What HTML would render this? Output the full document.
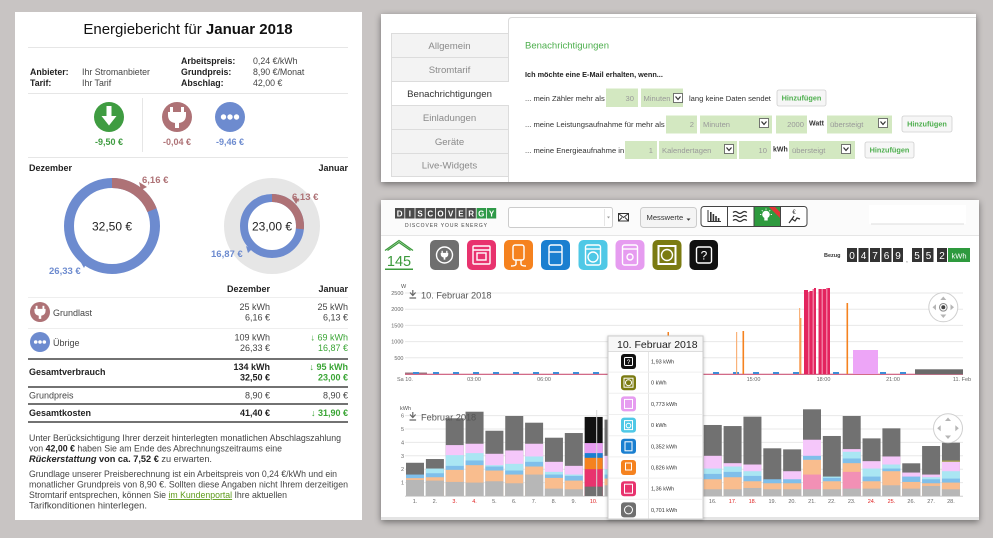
<!DOCTYPE html>
<html><head><meta charset="utf-8">
<style>
html,body{margin:0;padding:0;background:#c8c4c3;overflow:hidden;}
svg{display:block;font-family:"Liberation Sans",Arial,sans-serif;}
.g{fill:#b7b7b7}.o{fill:#f9bd8e}.b{fill:#80bfea}.c{fill:#aae6f3}.v{fill:#f5c7fa}.d{fill:#717171}.p{fill:#f290b5}
.ax{font-size:5.5px;fill:#666}
.inp{fill:#d3e8c1}
.sel{fill:#fff;stroke:#555;stroke-width:0.8}
.btn{fill:#f6f6f6;stroke:#cfcfcf;stroke-width:0.8}
.bt{font-size:7.3px;fill:#4cae4c;font-weight:bold;text-anchor:middle}
.rt{font-size:7.6px;fill:#333}
.it{font-size:7.6px;fill:#999}
</style></head><body>
<svg width="993" height="538" viewBox="0 0 993 538">
<defs>
<filter id="sh" x="-5%" y="-10%" width="110%" height="125%"><feDropShadow dx="0" dy="2" stdDeviation="3.5" flood-color="#000" flood-opacity="0.45"/></filter>
<filter id="sh2" x="-10%" y="-10%" width="120%" height="120%"><feDropShadow dx="0" dy="1" stdDeviation="1.5" flood-color="#000" flood-opacity="0.25"/></filter>
</defs>
<rect width="993" height="538" fill="#c8c4c3"/>

<!-- ================= LEFT PANEL ================= -->
<rect x="15" y="12" width="347" height="508" fill="#fff"/>
<text x="188" y="34" text-anchor="middle" font-size="15" fill="#111">Energiebericht für <tspan font-weight="bold">Januar 2018</tspan></text>
<g stroke="#e6e6e6" stroke-width="1">
<line x1="28" y1="47.5" x2="348" y2="47.5"/><line x1="28" y1="93.5" x2="348" y2="93.5"/><line x1="28" y1="157.5" x2="348" y2="157.5"/><line x1="142.5" y1="98" x2="142.5" y2="152"/>
</g>
<g font-size="8.8" fill="#222">
<text x="30" y="75" font-weight="bold">Anbieter:</text>
<text x="30" y="86" font-weight="bold">Tarif:</text>
<text x="82" y="75" fill="#444">Ihr Stromanbieter</text>
<text x="82" y="86" fill="#444">Ihr Tarif</text>
<text x="181" y="64" font-weight="bold">Arbeitspreis:</text>
<text x="181" y="75" font-weight="bold">Grundpreis:</text>
<text x="181" y="86" font-weight="bold">Abschlag:</text>
<text x="253" y="64" fill="#444">0,24 €/kWh</text>
<text x="253" y="75" fill="#444">8,90 €/Monat</text>
<text x="253" y="86" fill="#444">42,00 €</text>
</g>
<circle cx="109" cy="117" r="15" fill="#3f9c41"/>
<path d="M106.5 106h5v10h5l-7.5 9.5l-7.5 -9.5h5z" fill="#fff"/>
<circle cx="177" cy="117" r="15" fill="#ae7276"/>
<g transform="translate(177 117)" fill="#fff"><rect x="-7" y="-10" width="3" height="6"/><rect x="4" y="-10" width="3" height="6"/><path d="M-9 -5H9V-2Q9 5 2 6V11H-2V6Q-9 5 -9 -2Z"/></g>
<circle cx="230" cy="117" r="15" fill="#6d8bcf"/>
<g fill="#fff"><circle cx="223.5" cy="117" r="2.7"/><circle cx="230" cy="117" r="2.7"/><circle cx="236.5" cy="117" r="2.7"/></g>
<g font-size="9" font-weight="bold" text-anchor="middle">
<text x="109" y="145" fill="#3f9c41">-9,50 €</text>
<text x="177" y="145" fill="#ae7276">-0,04 €</text>
<text x="230" y="145" fill="#6d8bcf">-9,46 €</text>
</g>

<text x="29" y="171" font-size="9" font-weight="bold" fill="#222">Dezember</text>
<text x="348" y="171" font-size="9" font-weight="bold" fill="#222" text-anchor="end">Januar</text>

<!-- donut 1 -->
<circle cx="112" cy="226" r="43" fill="none" stroke="#6d8bcf" stroke-width="10"/>
<circle cx="112" cy="226" r="43" fill="none" stroke="#ae7276" stroke-width="10" stroke-dasharray="51.2 300" transform="rotate(-90 112 226)"/>
<polygon points="139,182 141,190 147,187" fill="#ae7276"/>
<polygon points="84,268 80,261 87,262" fill="#6d8bcf"/>
<text x="142" y="183" font-size="9.5" font-weight="bold" fill="#ae7276">6,16 €</text>
<text x="49" y="274" font-size="9.5" font-weight="bold" fill="#6d8bcf">26,33 €</text>
<text x="112" y="230.5" font-size="12" fill="#222" text-anchor="middle">32,50 €</text>

<!-- donut 2 -->
<circle cx="272" cy="226" r="48" fill="#e6e6e6"/>
<circle cx="272" cy="226" r="32" fill="#fff"/>
<circle cx="272" cy="226" r="28" fill="none" stroke="#6d8bcf" stroke-width="8"/>
<circle cx="272" cy="226" r="28" fill="none" stroke="#ae7276" stroke-width="8" stroke-dasharray="46.9 300" transform="rotate(-90 272 226)"/>
<polygon points="292,197 296,204 299,199" fill="#ae7276"/>
<polygon points="248,253 246,246 252,249" fill="#6d8bcf"/>
<text x="292" y="200" font-size="9.5" font-weight="bold" fill="#ae7276">6,13 €</text>
<text x="211" y="257" font-size="9.5" font-weight="bold" fill="#6d8bcf">16,87 €</text>
<text x="272" y="230.5" font-size="12" fill="#222" text-anchor="middle">23,00 €</text>

<!-- table -->
<g font-size="9" fill="#222">
<text x="270" y="292" font-weight="bold" text-anchor="end">Dezember</text>
<text x="348" y="292" font-weight="bold" text-anchor="end">Januar</text>
</g>
<g stroke="#eeeeee"><line x1="28" y1="297.5" x2="348" y2="297.5"/><line x1="28" y1="328.5" x2="348" y2="328.5"/></g>
<circle cx="40" cy="312" r="10" fill="#ae7276"/>
<g transform="translate(40 312) scale(0.62)" fill="#fff"><rect x="-7" y="-10" width="3" height="6"/><rect x="4" y="-10" width="3" height="6"/><path d="M-9 -5H9V-2Q9 5 2 6V11H-2V6Q-9 5 -9 -2Z"/></g>
<circle cx="40" cy="342" r="10" fill="#6d8bcf"/>
<g fill="#fff"><circle cx="35.7" cy="342" r="1.8"/><circle cx="40" cy="342" r="1.8"/><circle cx="44.3" cy="342" r="1.8"/></g>
<g font-size="9" fill="#444">
<text x="53" y="316">Grundlast</text>
<text x="53" y="346">Übrige</text>
<text x="270" y="310" text-anchor="end">25 kWh</text>
<text x="270" y="320.5" text-anchor="end">6,16 €</text>
<text x="348" y="310" text-anchor="end">25 kWh</text>
<text x="348" y="320.5" text-anchor="end">6,13 €</text>
<text x="270" y="340.5" text-anchor="end">109 kWh</text>
<text x="270" y="351" text-anchor="end">26,33 €</text>
<text x="348" y="340.5" text-anchor="end" fill="#3aa535">↓ 69 kWh</text>
<text x="348" y="351" text-anchor="end" fill="#3aa535">16,87 €</text>
<text x="29" y="375" font-weight="bold" fill="#222">Gesamtverbrauch</text>
<text x="270" y="370" text-anchor="end" font-weight="bold" fill="#222">134 kWh</text>
<text x="270" y="380.7" text-anchor="end" font-weight="bold" fill="#222">32,50 €</text>
<text x="348" y="370" text-anchor="end" font-weight="bold" fill="#3aa535">↓ 95 kWh</text>
<text x="348" y="380.7" text-anchor="end" font-weight="bold" fill="#3aa535">23,00 €</text>
<text x="29" y="398.5">Grundpreis</text>
<text x="270" y="398.5" text-anchor="end">8,90 €</text>
<text x="348" y="398.5" text-anchor="end">8,90 €</text>
<text x="29" y="416" font-weight="bold" fill="#222">Gesamtkosten</text>
<text x="270" y="416" text-anchor="end" font-weight="bold" fill="#222">41,40 €</text>
<text x="348" y="416" text-anchor="end" font-weight="bold" fill="#3aa535">↓ 31,90 €</text>
</g>
<g stroke="#444" stroke-width="1.5">
<line x1="28" y1="359" x2="348" y2="359"/><line x1="28" y1="387" x2="348" y2="387"/><line x1="28" y1="404" x2="348" y2="404"/><line x1="28" y1="422" x2="348" y2="422"/>
</g>
<g font-size="9.2" fill="#444">
<text x="29" y="441" textLength="312" lengthAdjust="spacingAndGlyphs">Unter Berücksichtigung Ihrer derzeit hinterlegten monatlichen Abschlagszahlung</text>
<text x="29" y="451.5" textLength="253" lengthAdjust="spacingAndGlyphs">von <tspan font-weight="bold" fill="#222">42,00 €</tspan> haben Sie am Ende des Abrechnungszeitraums eine</text>
<text x="29" y="462" textLength="183" lengthAdjust="spacingAndGlyphs"><tspan font-weight="bold" font-style="italic" fill="#222">Rückerstattung</tspan><tspan font-weight="bold" fill="#222"> von ca. 7,52 €</tspan> zu erwarten.</text>
<text x="29" y="477" textLength="308" lengthAdjust="spacingAndGlyphs">Grundlage unserer Preisberechnung ist ein Arbeitspreis von 0,24 €/kWh und ein</text>
<text x="29" y="487.5" textLength="319" lengthAdjust="spacingAndGlyphs">monatlicher Grundpreis von 8,90 €. Sollten diese Angaben nicht Ihrem derzeitigen</text>
<text x="29" y="498" textLength="258" lengthAdjust="spacingAndGlyphs">Stromtarif entsprechen, können Sie <tspan fill="#5e9a1a" text-decoration="underline">im Kundenportal</tspan> Ihre aktuellen</text>
<text x="29" y="508.5" textLength="118" lengthAdjust="spacingAndGlyphs">Tarifkonditionen hinterlegen.</text>
</g>

<!-- ================= TOP RIGHT PANEL ================= -->
<rect x="381" y="14" width="595" height="168" fill="#fff" filter="url(#sh)"/>
<g stroke="#dcdcdc" stroke-width="1" fill="#f3f3f3">
<rect x="391.5" y="33.5" width="117" height="24"/>
<rect x="391.5" y="57.5" width="117" height="24"/>
<rect x="391.5" y="105.5" width="117" height="24"/>
<rect x="391.5" y="129.5" width="117" height="24"/>
<rect x="391.5" y="153.5" width="117" height="23"/>
</g>
<rect x="391.5" y="81.5" width="118" height="24" fill="#fff"/>
<path d="M508.5 182V105.5H391.5V81.5H508.5V21Q508.5 17.5 512 17.5H976" fill="none" stroke="#dcdcdc"/>
<g font-size="9.6" text-anchor="middle" fill="#8a8a8a">
<text x="449.5" y="49">Allgemein</text>
<text x="449.5" y="73">Stromtarif</text>
<text x="449.5" y="97" fill="#333">Benachrichtigungen</text>
<text x="449.5" y="121">Einladungen</text>
<text x="449.5" y="145">Geräte</text>
<text x="449.5" y="168.5">Live-Widgets</text>
</g>
<text x="525" y="48.5" font-size="9.5" fill="#4cae4c">Benachrichtigungen</text>
<text x="525" y="77" font-size="7.3" font-weight="bold" fill="#222">Ich möchte eine E-Mail erhalten, wenn...</text>

<!-- row1 -->
<text class="rt" x="525" y="101">... mein Zähler mehr als</text>
<rect class="inp" x="606" y="88.5" width="32" height="18.5"/>
<text class="it" x="634" y="101" text-anchor="end">30</text>
<rect class="inp" x="641" y="88.5" width="42" height="18.5"/>
<text class="it" x="643.5" y="101">Minuten</text>
<rect class="sel" x="673.5" y="93.5" width="9" height="9"/>
<path d="M675.5 96.5l2.5 3l2.5 -3" fill="none" stroke="#333" stroke-width="1.2"/>
<text class="rt" x="689" y="101">lang keine Daten sendet</text>
<rect class="btn" x="777" y="90" width="49" height="16" rx="2"/>
<text class="bt" x="801.5" y="100.7">Hinzufügen</text>

<!-- row2 -->
<text class="rt" x="525" y="127">... meine Leistungsaufnahme für mehr als</text>
<rect class="inp" x="666" y="115.5" width="31" height="18"/>
<text class="it" x="694" y="127" text-anchor="end">2</text>
<rect class="inp" x="700" y="115.5" width="72" height="18"/>
<text class="it" x="703" y="127">Minuten</text>
<rect class="sel" x="759.5" y="118.5" width="9" height="9"/>
<path d="M761.5 121.5l2.5 3l2.5 -3" fill="none" stroke="#333" stroke-width="1.2"/>
<rect class="inp" x="776" y="115.5" width="31" height="18"/>
<text class="it" x="804" y="127" text-anchor="end">2000</text>
<text x="809" y="125.5" font-size="7" font-weight="bold" fill="#333">Watt</text>
<rect class="inp" x="827" y="115.5" width="65" height="18"/>
<text class="it" x="830" y="127">übersteigt</text>
<rect class="sel" x="878.5" y="118.5" width="9" height="9"/>
<path d="M880.5 121.5l2.5 3l2.5 -3" fill="none" stroke="#333" stroke-width="1.2"/>
<rect class="btn" x="902" y="116" width="50" height="16" rx="2"/>
<text class="bt" x="927" y="126.7">Hinzufügen</text>

<!-- row3 -->
<text class="rt" x="525" y="153">... meine Energieaufnahme in</text>
<rect class="inp" x="625" y="141" width="32" height="18"/>
<text class="it" x="653" y="153" text-anchor="end">1</text>
<rect class="inp" x="659" y="141" width="78" height="18"/>
<text class="it" x="662" y="153">Kalendertagen</text>
<rect class="sel" x="724.5" y="144.5" width="9" height="9"/>
<path d="M726.5 147.5l2.5 3l2.5 -3" fill="none" stroke="#333" stroke-width="1.2"/>
<rect class="inp" x="739" y="141" width="32" height="18"/>
<text class="it" x="767" y="153" text-anchor="end">10</text>
<text x="773" y="151.5" font-size="7" font-weight="bold" fill="#333">kWh</text>
<rect class="inp" x="789" y="141" width="66" height="18"/>
<text class="it" x="792" y="153">übersteigt</text>
<rect class="sel" x="841.5" y="144.5" width="9" height="9"/>
<path d="M843.5 147.5l2.5 3l2.5 -3" fill="none" stroke="#333" stroke-width="1.2"/>
<rect class="btn" x="865" y="142" width="49" height="16" rx="2"/>
<text class="bt" x="889.5" y="152.7">Hinzufügen</text>

<!-- ================= BOTTOM RIGHT PANEL ================= -->
<rect x="381" y="200" width="598" height="320" fill="#e4e4e4" filter="url(#sh)"/>
<rect x="381" y="200" width="598" height="317" fill="#fff"/>
<rect x="381" y="200" width="598" height="35" fill="#fbfbfb"/>
<line x1="381" y1="235.5" x2="979" y2="235.5" stroke="#e6e6e6"/>

<!-- logo -->
<g>
<rect x="395" y="208" width="9.4" height="10.5" fill="#4a4a4a"/>
<rect x="405.2" y="208" width="9.4" height="10.5" fill="#4a4a4a"/>
<rect x="415.4" y="208" width="9.4" height="10.5" fill="#4a4a4a"/>
<rect x="425.6" y="208" width="9.4" height="10.5" fill="#4a4a4a"/>
<rect x="435.8" y="208" width="9.4" height="10.5" fill="#4a4a4a"/>
<rect x="446" y="208" width="9.4" height="10.5" fill="#4a4a4a"/>
<rect x="456.2" y="208" width="9.4" height="10.5" fill="#4a4a4a"/>
<rect x="466.4" y="208" width="9.4" height="10.5" fill="#4a4a4a"/>
<rect x="476.6" y="208" width="9.4" height="10.5" fill="#2f9a48"/>
<rect x="486.8" y="208" width="9.4" height="10.5" fill="#2f9a48"/>
</g>
<g font-size="8" font-weight="bold" fill="#fff" text-anchor="middle">
<text x="399.7" y="216.5">D</text><text x="409.9" y="216.5">I</text><text x="420.1" y="216.5">S</text><text x="430.3" y="216.5">C</text><text x="440.5" y="216.5">O</text><text x="450.7" y="216.5">V</text><text x="460.9" y="216.5">E</text><text x="471.1" y="216.5">R</text><text x="481.3" y="216.5">G</text><text x="491.5" y="216.5">Y</text>
</g>
<text x="405" y="227" font-size="5" fill="#444" textLength="82" lengthAdjust="spacing">DISCOVER YOUR ENERGY</text>

<rect x="508.5" y="207.5" width="104" height="20" rx="2" fill="#fff" stroke="#cccccc"/>
<line x1="604.5" y1="209" x2="604.5" y2="226" stroke="#e6e6e6"/>
<path d="M607 216.5h3l-1.5 2z" fill="#999"/>
<rect x="618.5" y="213.5" width="10" height="7.5" fill="none" stroke="#333" stroke-width="1"/>
<path d="M618.5 213.5l5 4l5 -4M618.5 221l3.5 -3.5M628.5 221l-3.5 -3.5" fill="none" stroke="#333" stroke-width="0.9"/>
<rect x="640.5" y="207.5" width="56" height="20" rx="3" fill="#f4f4f4" stroke="#cccccc"/>
<text x="646.5" y="220" font-size="7.6" fill="#333">Messwerte</text>
<path d="M686.5 218.5h4l-2 2.2z" fill="#333"/>

<!-- button group -->
<rect x="701" y="206.5" width="106" height="20" rx="3" fill="#fff" stroke="#444"/>
<rect x="754" y="207" width="26.5" height="19" fill="#2e9a3e"/>
<polygon points="769,207 775,207 780.5,212.5 780.5,218.5" fill="#e03535"/>
<g stroke="#444" stroke-width="1"><line x1="727.5" y1="206.5" x2="727.5" y2="226.5"/><line x1="754" y1="206.5" x2="754" y2="226.5"/><line x1="780.5" y1="206.5" x2="780.5" y2="226.5"/></g>
<path d="M708 210V221.5H721" fill="none" stroke="#333" stroke-width="1"/>
<g fill="#333"><rect x="710" y="212" width="1.6" height="9"/><rect x="712.6" y="214" width="1.6" height="7"/><rect x="715.2" y="216" width="1.6" height="5"/><rect x="717.8" y="218" width="1.6" height="3"/></g>
<path d="M733 212.5q2.3 -2 4.6 0t4.6 0t4.6 0M733 216.5q2.3 -2 4.6 0t4.6 0t4.6 0M733 220.5q2.3 -2 4.6 0t4.6 0t4.6 0" fill="none" stroke="#333" stroke-width="1.3"/>
<circle cx="766" cy="214.5" r="3.8" fill="#fff"/>
<rect x="764.3" y="217.5" width="3.4" height="3" fill="#fff"/>
<g stroke="#fff" stroke-width="0.9"><line x1="766" y1="208.5" x2="766" y2="209.8"/><line x1="760" y1="214.5" x2="761.3" y2="214.5"/><line x1="770.7" y1="214.5" x2="772" y2="214.5"/><line x1="761.8" y1="210.3" x2="762.7" y2="211.2"/><line x1="770.2" y1="210.3" x2="769.3" y2="211.2"/></g>
<text x="794" y="214" font-size="6" fill="#333" text-anchor="middle">€</text>
<path d="M789 223l3 -4l3 2l2 -3l3 1M792 219l2 -3" fill="none" stroke="#333" stroke-width="1.2"/>
<rect x="869" y="205" width="97" height="19" fill="#fff"/>
<line x1="871" y1="224" x2="964" y2="224" stroke="#ddd"/>

<!-- device row -->
<path d="M385 250.5L399 240.5L413 250.5M387.5 250.5L399 242.5L410.5 250.5" fill="none" stroke="#3c9a3c" stroke-width="1.3"/>
<text x="399" y="266" font-size="14.5" fill="#3c9a3c" text-anchor="middle">145</text>
<rect x="385" y="268.5" width="28" height="1.5" fill="#3c9a3c"/>

<rect x="430" y="240" width="29" height="30" rx="5" fill="#6f6f6f"/>
<rect x="467" y="240" width="29" height="30" rx="5" fill="#e8336e"/>
<rect x="504" y="240" width="29" height="30" rx="5" fill="#f5821f"/>
<rect x="541" y="240" width="29" height="30" rx="5" fill="#1a7fd0"/>
<rect x="578.5" y="240" width="29" height="30" rx="5" fill="#4fc8e6"/>
<rect x="615.5" y="240" width="29" height="30" rx="5" fill="#e69cf0"/>
<rect x="652.5" y="240" width="29" height="30" rx="5" fill="#7b7b12"/>
<rect x="689.5" y="240" width="28.5" height="30" rx="5" fill="#111"/>
<g fill="none" stroke="#fff" stroke-width="1.4">
<circle cx="444.5" cy="255" r="8"/>
<rect x="473" y="246" width="17" height="18" rx="1"/><line x1="473" y1="250" x2="490" y2="250"/><rect x="477" y="253" width="9" height="7"/>
<rect x="513" y="245" width="11" height="15" rx="2"/><path d="M516 260v4q0 2 -5 2M521 260v4q0 2 5 2"/>
<rect x="549" y="245" width="13" height="20" rx="2"/><line x1="549" y1="252" x2="562" y2="252"/>
<rect x="585.5" y="245" width="15" height="20" rx="2"/><circle cx="593" cy="257" r="5"/><line x1="585.5" y1="249" x2="600.5" y2="249"/>
<rect x="622.5" y="245" width="15" height="20" rx="2"/><line x1="622.5" y1="249" x2="637.5" y2="249"/><circle cx="630" cy="257" r="3"/>
<rect x="658.5" y="246" width="17" height="18" stroke-width="2"/><circle cx="667" cy="255" r="5.5"/>
<rect x="696.5" y="247" width="15" height="16" rx="2"/>
</g>
<g transform="translate(444.5 255) scale(0.42)" fill="#fff"><rect x="-7" y="-10" width="3" height="6"/><rect x="4" y="-10" width="3" height="6"/><path d="M-9 -5H9V-2Q9 5 2 6V11H-2V6Q-9 5 -9 -2Z"/></g>
<text x="704" y="259.5" font-size="12" fill="#fff" text-anchor="middle">?</text>

<!-- counter -->
<text x="824" y="257" font-size="5.5" font-weight="bold" fill="#333">Bezug</text>
<g fill="#333">
<rect x="847" y="248" width="10" height="14"/><rect x="858.5" y="248" width="10" height="14"/><rect x="870" y="248" width="10" height="14"/><rect x="881.5" y="248" width="10" height="14"/><rect x="893" y="248" width="10" height="14"/>
<rect x="912" y="248" width="10" height="14"/><rect x="923.5" y="248" width="10" height="14"/><rect x="937" y="248" width="10" height="14"/>
</g>
<rect x="948" y="248" width="22" height="14" fill="#2e9a3e"/>
<g font-size="10" fill="#fff" text-anchor="middle">
<text x="852" y="259">0</text><text x="863.5" y="259">4</text><text x="875" y="259">7</text><text x="886.5" y="259">6</text><text x="898" y="259">9</text>
<text x="917" y="259">5</text><text x="928.5" y="259">5</text><text x="942" y="259">2</text>
</g>
<text x="907" y="262" font-size="6" fill="#333" text-anchor="middle">,</text>
<text x="959" y="258.5" font-size="7.5" fill="#fff" text-anchor="middle">kWh</text>

<!-- ===== upper chart ===== -->
<g stroke="#e8e8e8" stroke-width="1">
<line x1="405" y1="293" x2="963" y2="293"/><line x1="405" y1="309.2" x2="963" y2="309.2"/><line x1="405" y1="325.4" x2="963" y2="325.4"/><line x1="405" y1="341.6" x2="963" y2="341.6"/><line x1="405" y1="357.8" x2="963" y2="357.8"/>
</g>
<text x="401" y="288" font-size="5.5" fill="#555">W</text>
<g class="ax" text-anchor="end">
<text x="403.5" y="295">2500</text><text x="403.5" y="311.2">2000</text><text x="403.5" y="327.4">1500</text><text x="403.5" y="343.6">1000</text><text x="403.5" y="359.8">500</text>
</g>
<path d="M412.8 290v5M410 292.5l2.8 3l2.8 -3M409.5 298h6.6" fill="none" stroke="#666" stroke-width="1.2"/>
<text x="421" y="298.5" font-size="9.2" fill="#555">10. Februar 2018</text>

<rect x="405" y="372.5" width="22" height="2" fill="#9a7a80"/>
<line x1="405" y1="374.3" x2="963" y2="374.3" stroke="#cc5577" stroke-width="1.2"/>
<g fill="#3d8ed8">
<rect x="413" y="372" width="6" height="2"/><rect x="433" y="372" width="6" height="2"/><rect x="453" y="372" width="6" height="2"/><rect x="473" y="372" width="6" height="2"/><rect x="493" y="372" width="6" height="2"/><rect x="513" y="372" width="6" height="2"/><rect x="533" y="372" width="6" height="2"/><rect x="553" y="372" width="6" height="2"/><rect x="573" y="372" width="6" height="2"/><rect x="593" y="372" width="6" height="2"/><rect x="713" y="372" width="6" height="2"/><rect x="733" y="372" width="6" height="2"/><rect x="753" y="372" width="6" height="2"/><rect x="773" y="372" width="6" height="2"/><rect x="793" y="372" width="6" height="2"/><rect x="833" y="372" width="6" height="2"/><rect x="880" y="372" width="6" height="2"/><rect x="900" y="372" width="6" height="2"/><rect x="933" y="372" width="6" height="2"/><rect x="951" y="372" width="6" height="2"/>
</g>
<g fill="#f5821f">
<rect x="667.5" y="332" width="1.5" height="42"/>
<rect x="736" y="332" width="1.2" height="42" fill="#f9b27a"/><rect x="742.5" y="331" width="1.6" height="43"/>
<rect x="799" y="308" width="1.2" height="66" fill="#f9b27a"/><rect x="800.3" y="318" width="1" height="56"/>
<rect x="846.5" y="303" width="1.6" height="71"/>
</g>
<g fill="#e3245e">
<rect x="804" y="290" width="4" height="84"/>
<rect x="808" y="292" width="1.5" height="82" fill="#f07aa0"/>
<rect x="809.5" y="291" width="3" height="83"/>
<rect x="812.5" y="289" width="1.5" height="85" fill="#f07aa0"/>
<rect x="814" y="288" width="2" height="86"/>
<rect x="818.5" y="289" width="3" height="85"/>
<rect x="821.5" y="289" width="1.5" height="85" fill="#f07aa0"/>
<rect x="823" y="289" width="3" height="85"/>
<rect x="826" y="288" width="1.5" height="86" fill="#f07aa0"/>
<rect x="827.5" y="288" width="2.5" height="86"/>
</g>
<rect x="853" y="350" width="25" height="24" fill="#eda5f7"/>
<rect x="915" y="369.3" width="48" height="5" fill="#6a6a6a"/>
<g class="ax">
<text x="397" y="381">Sa 10.</text>
<text x="474" y="381" text-anchor="middle">03:00</text>
<text x="544" y="381" text-anchor="middle">06:00</text>
<text x="753.5" y="381" text-anchor="middle">15:00</text>
<text x="823.5" y="381" text-anchor="middle">18:00</text>
<text x="893" y="381" text-anchor="middle">21:00</text>
<text x="962" y="381" text-anchor="middle">11. Feb</text>
</g>
<g>
<circle cx="943.3" cy="307.3" r="14.5" fill="#fff" fill-opacity="0.85" stroke="#cfcfcf"/>
<g fill="#b5b5b5"><path d="M943.3 296.5l3 3.5h-6z"/><path d="M943.3 318l3 -3.5h-6z"/><path d="M932.5 307.3l3.5 -3v6z"/><path d="M954 307.3l-3.5 -3v6z"/></g>
<circle cx="943.3" cy="307.3" r="3.8" fill="none" stroke="#888"/><circle cx="943.3" cy="307.3" r="2" fill="#444"/>
</g>

<!-- ===== lower chart ===== -->
<g stroke="#e8e8e8" stroke-width="1">
<line x1="405" y1="415.6" x2="963" y2="415.6"/><line x1="405" y1="429" x2="963" y2="429"/><line x1="405" y1="442.4" x2="963" y2="442.4"/><line x1="405" y1="455.8" x2="963" y2="455.8"/><line x1="405" y1="469.2" x2="963" y2="469.2"/><line x1="405" y1="482.6" x2="963" y2="482.6"/>
</g>
<line x1="405" y1="496.3" x2="963" y2="496.3" stroke="#cfcfcf"/>
<text x="400" y="410" font-size="5.5" fill="#555">kWh</text>
<g class="ax" text-anchor="end">
<text x="404" y="417.6">6</text><text x="404" y="431">5</text><text x="404" y="444.4">4</text><text x="404" y="457.8">3</text><text x="404" y="471.2">2</text><text x="404" y="484.6">1</text>
</g>

<!-- bars -->
<g>
<!-- 1 --><rect class="d" x="406" y="462.77" width="18" height="33.23"/><rect class="b" x="406" y="474.56" width="18" height="21.44"/><rect class="o" x="406" y="478.18" width="18" height="17.82"/><rect class="g" x="406" y="479.92" width="18" height="16.08"/>
<!-- 2 --><rect class="d" x="425.9" y="459.02" width="18" height="36.98"/><rect class="c" x="425.9" y="468.53" width="18" height="27.47"/><rect class="b" x="425.9" y="473.22" width="18" height="22.78"/><rect class="o" x="425.9" y="477.24" width="18" height="18.76"/><rect class="g" x="425.9" y="480.59" width="18" height="15.41"/>
<!-- 3 --><rect class="d" x="445.7" y="418.28" width="18" height="77.72"/><rect class="v" x="445.7" y="445.08" width="18" height="50.92"/><rect class="c" x="445.7" y="455.13" width="18" height="40.87"/><rect class="b" x="445.7" y="465.85" width="18" height="30.15"/><rect class="o" x="445.7" y="469.87" width="18" height="26.13"/><rect class="g" x="445.7" y="481.93" width="18" height="14.07"/>
<!-- 4 --><rect class="d" x="465.55" y="411.71" width="18" height="84.29"/><rect class="v" x="465.55" y="443.74" width="18" height="52.26"/><rect class="c" x="465.55" y="453.12" width="18" height="42.88"/><rect class="b" x="465.55" y="460.49" width="18" height="35.51"/><rect class="o" x="465.55" y="465.18" width="18" height="30.82"/><rect class="g" x="465.55" y="482.6" width="18" height="13.4"/>
<!-- 5 --><rect class="d" x="485.4" y="430.74" width="18" height="65.26"/><rect class="v" x="485.4" y="453.79" width="18" height="42.21"/><rect class="c" x="485.4" y="465.18" width="18" height="30.82"/><rect class="b" x="485.4" y="466.52" width="18" height="29.48"/><rect class="o" x="485.4" y="470.54" width="18" height="25.46"/><rect class="g" x="485.4" y="481.26" width="18" height="14.74"/>
<!-- 6 --><rect class="d" x="505.25" y="416" width="18" height="80"/><rect class="v" x="505.25" y="450.44" width="18" height="45.56"/><rect class="c" x="505.25" y="463.84" width="18" height="32.16"/><rect class="b" x="505.25" y="470.54" width="18" height="25.46"/><rect class="o" x="505.25" y="474.56" width="18" height="21.44"/><rect class="g" x="505.25" y="483.27" width="18" height="12.73"/>
<!-- 7 --><rect class="d" x="525.1" y="422.7" width="18" height="73.3"/><rect class="v" x="525.1" y="443.74" width="18" height="52.26"/><rect class="c" x="525.1" y="456.47" width="18" height="39.53"/><rect class="b" x="525.1" y="461.83" width="18" height="34.17"/><rect class="o" x="525.1" y="466.52" width="18" height="29.48"/><rect class="g" x="525.1" y="474.56" width="18" height="21.44"/>
<!-- 8 --><rect class="d" x="544.95" y="437.71" width="18" height="58.29"/><rect class="v" x="544.95" y="461.83" width="18" height="34.17"/><rect class="c" x="544.95" y="471.88" width="18" height="24.12"/><rect class="b" x="544.95" y="474.56" width="18" height="21.44"/><rect class="o" x="544.95" y="477.91" width="18" height="18.09"/><rect class="g" x="544.95" y="488.63" width="18" height="7.37"/>
<!-- 9 --><rect class="d" x="564.8" y="433.02" width="18" height="62.98"/><rect class="v" x="564.8" y="465.85" width="18" height="30.15"/><rect class="c" x="564.8" y="474.56" width="18" height="21.44"/><rect class="b" x="564.8" y="475.9" width="18" height="20.1"/><rect class="o" x="564.8" y="480.59" width="18" height="15.41"/><rect class="g" x="564.8" y="489.3" width="18" height="6.7"/>
<!-- 10 --><rect x="584.65" y="416.94" width="18" height="79.06" fill="#111"/><rect x="584.65" y="443.07" width="18" height="52.93" fill="#e79df0"/><rect x="584.65" y="453.12" width="18" height="42.88" fill="#1a7fd0"/><rect x="584.65" y="457.81" width="18" height="38.19" fill="#f5821f"/><rect x="584.65" y="469.2" width="18" height="26.8" fill="#e8336e"/><rect x="584.65" y="486.62" width="18" height="9.38" fill="#707070"/>
<!-- 11 --><rect class="d" x="604.5" y="419.62" width="18" height="76.38"/><rect class="v" x="604.5" y="455.8" width="18" height="40.2"/><rect class="c" x="604.5" y="469.2" width="18" height="26.8"/><rect class="b" x="604.5" y="474.56" width="18" height="21.44"/><rect class="o" x="604.5" y="478.58" width="18" height="17.42"/><rect class="g" x="604.5" y="485.28" width="18" height="10.72"/>
<!-- 16 --><rect class="d" x="703.75" y="424.98" width="18" height="71.02"/><rect class="v" x="703.75" y="455.8" width="18" height="40.2"/><rect class="c" x="703.75" y="468.53" width="18" height="27.47"/><rect class="b" x="703.75" y="473.89" width="18" height="22.11"/><rect class="o" x="703.75" y="479.25" width="18" height="16.75"/><rect class="g" x="703.75" y="489.3" width="18" height="6.7"/>
<!-- 17 --><rect class="d" x="723.6" y="426.05" width="18" height="69.95"/><rect class="v" x="723.6" y="463.17" width="18" height="32.83"/><rect class="c" x="723.6" y="466.52" width="18" height="29.48"/><rect class="b" x="723.6" y="471.88" width="18" height="24.12"/><rect class="o" x="723.6" y="477.24" width="18" height="18.76"/><rect class="g" x="723.6" y="489.3" width="18" height="6.7"/>
<!-- 18 --><rect class="d" x="743.45" y="416.67" width="18" height="79.33"/><rect class="v" x="743.45" y="464.51" width="18" height="31.49"/><rect class="c" x="743.45" y="471.21" width="18" height="24.79"/><rect class="b" x="743.45" y="475.9" width="18" height="20.1"/><rect class="o" x="743.45" y="481.26" width="18" height="14.74"/><rect class="g" x="743.45" y="487.96" width="18" height="8.04"/>
<!-- 19 --><rect class="d" x="763.3" y="448.3" width="18" height="47.7"/><rect class="b" x="763.3" y="479.25" width="18" height="16.75"/><rect class="o" x="763.3" y="483.27" width="18" height="12.73"/><rect class="g" x="763.3" y="489.3" width="18" height="6.7"/>
<!-- 20 --><rect class="d" x="783.15" y="449.37" width="18" height="46.63"/><rect class="v" x="783.15" y="471.21" width="18" height="24.79"/><rect class="b" x="783.15" y="479.25" width="18" height="16.75"/><rect class="o" x="783.15" y="483.27" width="18" height="12.73"/><rect class="g" x="783.15" y="489.3" width="18" height="6.7"/>
<!-- 21 --><rect class="d" x="803" y="409.3" width="18" height="86.7"/><rect class="v" x="803" y="439.72" width="18" height="56.28"/><rect class="b" x="803" y="455.8" width="18" height="40.2"/><rect class="o" x="803" y="459.82" width="18" height="36.18"/><rect class="p" x="803" y="474.56" width="18" height="21.44"/><rect class="g" x="803" y="489.3" width="18" height="6.7"/>
<!-- 22 --><rect class="d" x="822.85" y="435.97" width="18" height="60.03"/><rect class="c" x="822.85" y="476.57" width="18" height="19.43"/><rect class="b" x="822.85" y="477.91" width="18" height="18.09"/><rect class="o" x="822.85" y="481.26" width="18" height="14.74"/><rect class="g" x="822.85" y="489.3" width="18" height="6.7"/>
<!-- 23 --><rect class="d" x="842.7" y="416" width="18" height="80"/><rect class="v" x="842.7" y="449.1" width="18" height="46.9"/><rect class="c" x="842.7" y="451.78" width="18" height="44.22"/><rect class="b" x="842.7" y="458.48" width="18" height="37.52"/><rect class="o" x="842.7" y="463.17" width="18" height="32.83"/><rect class="p" x="842.7" y="471.88" width="18" height="24.12"/><rect class="g" x="842.7" y="488.63" width="18" height="7.37"/>
<!-- 24 --><rect class="d" x="862.55" y="438.38" width="18" height="57.62"/><rect class="v" x="862.55" y="461.16" width="18" height="34.84"/><rect class="c" x="862.55" y="468.53" width="18" height="27.47"/><rect class="b" x="862.55" y="476.57" width="18" height="19.43"/><rect class="o" x="862.55" y="481.26" width="18" height="14.74"/><rect class="g" x="862.55" y="488.63" width="18" height="7.37"/>
<!-- 25 --><rect class="d" x="882.4" y="428.33" width="18" height="67.67"/><rect class="v" x="882.4" y="456.47" width="18" height="39.53"/><rect class="c" x="882.4" y="464.51" width="18" height="31.49"/><rect class="b" x="882.4" y="468.53" width="18" height="27.47"/><rect class="o" x="882.4" y="471.21" width="18" height="24.79"/><rect class="g" x="882.4" y="485.28" width="18" height="10.72"/>
<!-- 26 --><rect class="d" x="902.25" y="463.3" width="18" height="32.7"/><rect class="v" x="902.25" y="472.55" width="18" height="23.45"/><rect class="b" x="902.25" y="476.57" width="18" height="19.43"/><rect class="o" x="902.25" y="481.93" width="18" height="14.07"/><rect class="g" x="902.25" y="488.63" width="18" height="7.37"/>
<!-- 27 --><rect class="d" x="922.1" y="446" width="18" height="50"/><rect class="v" x="922.1" y="474.56" width="18" height="21.44"/><rect class="c" x="922.1" y="477.24" width="18" height="18.76"/><rect class="b" x="922.1" y="479.25" width="18" height="16.75"/><rect class="o" x="922.1" y="483.27" width="18" height="12.73"/><rect class="g" x="922.1" y="485.95" width="18" height="10.05"/>
<!-- 28 --><rect class="d" x="941.95" y="442.67" width="18" height="53.33"/><rect x="941.95" y="460.49" width="18" height="35.51" fill="#a0a050"/><rect class="v" x="941.95" y="461.83" width="18" height="34.17"/><rect class="c" x="941.95" y="471.21" width="18" height="24.79"/><rect class="b" x="941.95" y="478.58" width="18" height="17.42"/><rect class="o" x="941.95" y="482.6" width="18" height="13.4"/><rect class="g" x="941.95" y="489.3" width="18" height="6.7"/>
</g>
<line x1="596.7" y1="410" x2="596.7" y2="496" stroke="#d8d8d8" stroke-width="1"/>
<path d="M412.8 412v5M410 414.5l2.8 3l2.8 -3M409.5 420h6.6" fill="none" stroke="#666" stroke-width="1.2"/>
<text x="421" y="420.5" font-size="9.2" fill="#555">Februar 2018</text>
<g class="ax" text-anchor="middle">
<text x="415" y="503">1.</text><text x="434.9" y="503">2.</text><text x="454.7" y="503" fill="#e02020">3.</text><text x="474.55" y="503" fill="#e02020">4.</text><text x="494.4" y="503">5.</text><text x="514.25" y="503">6.</text><text x="534.1" y="503">7.</text><text x="553.95" y="503">8.</text><text x="573.8" y="503">9.</text><text x="593.65" y="503" fill="#e02020">10.</text>
<text x="712.75" y="503">16.</text><text x="732.6" y="503" fill="#e02020">17.</text><text x="752.45" y="503" fill="#e02020">18.</text><text x="772.3" y="503">19.</text><text x="792.15" y="503">20.</text><text x="812" y="503">21.</text><text x="831.85" y="503">22.</text><text x="851.7" y="503">23.</text><text x="871.55" y="503" fill="#e02020">24.</text><text x="891.4" y="503" fill="#e02020">25.</text><text x="911.25" y="503">26.</text><text x="931.1" y="503">27.</text><text x="950.95" y="503">28.</text>
</g>
<g>
<circle cx="948" cy="428.3" r="14.5" fill="#fff" fill-opacity="0.85" stroke="#cfcfcf"/>
<g fill="#b5b5b5"><path d="M948 417.5l3 3.5h-6z"/><path d="M948 439l3 -3.5h-6z"/><path d="M937.2 428.3l3.5 -3v6z"/><path d="M958.8 428.3l-3.5 -3v6z"/></g>
</g>

<!-- ===== tooltip ===== -->
<rect x="608" y="336" width="95" height="183" fill="#fff" stroke="#cccccc" filter="url(#sh2)"/>
<rect x="608.5" y="336.5" width="94" height="15" fill="#f7f7f7"/>
<line x1="608.5" y1="351.5" x2="702.5" y2="351.5" stroke="#dddddd"/>
<text x="617" y="348" font-size="10.5" fill="#222">10. Februar 2018</text>
<line x1="648.5" y1="352" x2="648.5" y2="518.5" stroke="#e6e6e6"/>
<g stroke="#efefef">
<line x1="609" y1="372.1" x2="702" y2="372.1"/><line x1="609" y1="393.3" x2="702" y2="393.3"/><line x1="609" y1="414.5" x2="702" y2="414.5"/><line x1="609" y1="435.7" x2="702" y2="435.7"/><line x1="609" y1="456.9" x2="702" y2="456.9"/><line x1="609" y1="478.1" x2="702" y2="478.1"/><line x1="609" y1="499.3" x2="702" y2="499.3"/>
</g>
<rect x="621" y="354" width="15" height="15" rx="3" fill="#111"/>
<rect x="621" y="375.2" width="15" height="15" rx="3" fill="#7b7b12"/>
<rect x="621" y="396.4" width="15" height="15" rx="3" fill="#e69cf0"/>
<rect x="621" y="417.6" width="15" height="15" rx="3" fill="#4fc8e6"/>
<rect x="621" y="438.8" width="15" height="15" rx="3" fill="#1a7fd0"/>
<rect x="621" y="460" width="15" height="15" rx="3" fill="#f5821f"/>
<rect x="621" y="481.2" width="15" height="15" rx="3" fill="#e8336e"/>
<rect x="621" y="502.4" width="15" height="15" rx="3" fill="#6f6f6f"/>
<g fill="none" stroke="#fff" stroke-width="1">
<rect x="624.5" y="357.5" width="8" height="8" rx="1"/>
<rect x="624" y="378.2" width="9" height="9"/><circle cx="628.5" cy="382.7" r="3"/>
<rect x="624.5" y="399.4" width="8" height="9"/>
<rect x="624.5" y="420.6" width="8" height="9"/><circle cx="628.5" cy="425.6" r="2.3"/>
<rect x="625" y="441.8" width="7" height="9"/>
<rect x="625.5" y="463" width="6" height="7"/>
<rect x="624.5" y="484.2" width="8" height="9"/>
<circle cx="628.5" cy="509.9" r="4"/>
</g>
<text x="628.5" y="364" font-size="6.5" fill="#fff" text-anchor="middle">?</text>
<g font-size="5.5" fill="#333">
<text x="651" y="363.5">1,93 kWh</text>
<text x="651" y="384.7">0 kWh</text>
<text x="651" y="405.9">0,773 kWh</text>
<text x="651" y="427.1">0 kWh</text>
<text x="651" y="448.3">0,352 kWh</text>
<text x="651" y="469.5">0,826 kWh</text>
<text x="651" y="490.7">1,36 kWh</text>
<text x="651" y="511.9">0,701 kWh</text>
</g>
</svg>
</body></html>
